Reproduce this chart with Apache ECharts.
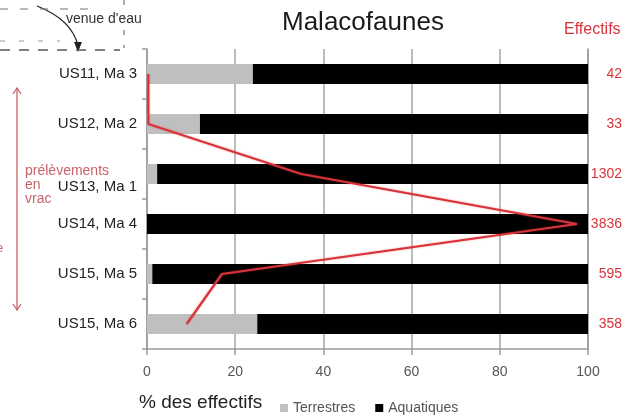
<!DOCTYPE html>
<html>
<head>
<meta charset="utf-8">
<script src="https://cdn.jsdelivr.net/npm/echarts@6/dist/echarts.min.js"></script>
<style>
  html, body { margin: 0; padding: 0; background: #fff; }
  #chart { width: 630px; height: 417px; }
</style>
</head>
<body>
<div id="chart"></div>
<script>
var categories = ['US11, Ma 3', 'US12, Ma 2', 'US13, Ma 1', 'US14, Ma 4', 'US15, Ma 5', 'US15, Ma 6'];
var terrestres = [24, 12, 2.3, 0, 1.2, 25];
var aquatiques = [76, 88, 97.7, 100, 98.8, 75];
var effectifs = ['42', '33', '1302', '3836', '595', '358'];
// courbe rouge (effectifs rapportes en %)
var courbe = [0.3, 0.3, 35, 97.5, 17, 9];
var xTicks = [0, 20, 40, 60, 80, 100];

var red = '#d9333a';
var pink = '#c9636a';
var font = 'Liberation Sans, Arial, sans-serif';

var myChart = echarts.init(document.getElementById('chart'));

var option = {
    animation: false,
    textStyle: { fontFamily: font },
    title: {
        text: 'Malacofaunes',
        left: 277,
        top: 5,
        textStyle: { fontSize: 26, fontWeight: 'normal', color: '#1a1a1a' }
    },
    legend: {
        data: ['Terrestres', 'Aquatiques'],
        left: 275,
        top: 396,
        icon: 'rect',
        itemWidth: 8,
        itemHeight: 8,
        itemGap: 20,
        textStyle: { fontSize: 14, color: '#555' }
    },
    grid: {
        left: 147,
        right: 42,
        top: 49,
        bottom: 68
    },
    xAxis: {
        type: 'value',
        min: 0,
        max: 100,
        interval: 20,
        axisLine: { show: true, lineStyle: { color: '#9a9a9a', width: 1.5 } },
        axisTick: { show: true, length: 6, lineStyle: { color: '#9a9a9a', width: 1.5 } },
        splitLine: { show: true, lineStyle: { color: '#a6a6a6', width: 1.5 } },
        axisLabel: {
            margin: 16,
            fontSize: 14,
            color: '#555',
            formatter: function (v) { return xTicks.indexOf(v) >= 0 ? String(v) : ''; }
        }
    },
    yAxis: [{
        type: 'category',
        data: categories,
        inverse: true,
        axisLine: { show: true, lineStyle: { color: '#9a9a9a', width: 1.5 } },
        axisTick: { show: true, length: 5, lineStyle: { color: '#9a9a9a', width: 1.5 } },
        axisLabel: {
            margin: 10,
            fontSize: 15,
            color: '#222',
            // le libelle US13 est decale vers le bas dans l'original
            formatter: function (v, i) { return i === 2 ? '{low|' + v + '}' : v; },
            rich: {
                low: { fontSize: 15, color: '#222', padding: [26, 0, 0, 0] }
            }
        }
    }, {
        type: 'category',
        data: effectifs,
        inverse: true,
        position: 'right',
        axisLine: { show: true, lineStyle: { color: '#9a9a9a', width: 1.5 } },
        axisTick: { show: false },
        axisLabel: { margin: 34, align: 'right', fontSize: 14, color: red }
    }],
    series: [{
        name: 'Terrestres',
        type: 'bar',
        stack: 'total',
        barWidth: 20,
        itemStyle: { color: '#bfbfbf' },
        data: terrestres
    }, {
        name: 'Aquatiques',
        type: 'bar',
        stack: 'total',
        barWidth: 20,
        itemStyle: { color: '#000' },
        data: aquatiques
    }, {
        name: 'Effectifs',
        type: 'line',
        symbol: 'none',
        z: 5,
        lineStyle: { color: red, width: 2.2, shadowColor: 'rgba(230,60,60,0.5)', shadowBlur: 2 },
        data: courbe.map(function (v, i) { return [v, i]; })
    }],
    graphic: [
        { type: 'text', left: 564, top: 22, style: { text: 'Effectifs', fontSize: 16, fill: red, fontFamily: font } },
        { type: 'text', left: 139, top: 393, style: { text: '% des effectifs', fontSize: 19, fill: '#222', fontFamily: font } },
        // annotation prelevements en vrac
        { type: 'text', left: 25, top: 164, style: { text: 'prélèvements\nen\nvrac', fontSize: 14, lineHeight: 14, fill: pink, fontFamily: font } },
        { type: 'text', left: -4, top: 242, style: { text: 'e', fontSize: 13, fill: pink, fontFamily: font } },
        { type: 'line', shape: { x1: 17, y1: 88, x2: 17, y2: 310 }, style: { stroke: pink, lineWidth: 1.3 } },
        { type: 'polyline', shape: { points: [[13, 94], [17, 88], [21, 94]] }, style: { stroke: pink, lineWidth: 1.3, fill: null } },
        { type: 'polyline', shape: { points: [[13, 304], [17, 310], [21, 304]] }, style: { stroke: pink, lineWidth: 1.3, fill: null } },
        // venue d'eau
        { type: 'text', left: 66, top: 12, style: { text: 'venue d\'eau', fontSize: 14, fill: '#333', fontFamily: font } },
        { type: 'bezierCurve', shape: { x1: 37, y1: 6, x2: 78, y2: 46, cpx1: 60, cpy1: 15, cpx2: 74, cpy2: 28 }, style: { stroke: '#222', lineWidth: 1.3, fill: null } },
        { type: 'polygon', shape: { points: [[74, 42], [82, 42], [78, 52]] }, style: { fill: '#222' } },
        { type: 'line', shape: { x1: 0, y1: 9, x2: 92, y2: 9 }, style: { stroke: '#777', lineWidth: 1.2, lineDash: [8, 12] } },
        { type: 'line', shape: { x1: 0, y1: 41, x2: 60, y2: 41 }, style: { stroke: '#999', lineWidth: 1, lineDash: [5, 14] } },
        { type: 'line', shape: { x1: 0, y1: 50, x2: 120, y2: 50 }, style: { stroke: '#555', lineWidth: 1.3, lineDash: [10, 9] } },
        { type: 'line', shape: { x1: 124, y1: 0, x2: 124, y2: 48 }, style: { stroke: '#777', lineWidth: 1.2, lineDash: [5, 10] } }
    ]
};

myChart.setOption(option);
</script>
</body>
</html>
